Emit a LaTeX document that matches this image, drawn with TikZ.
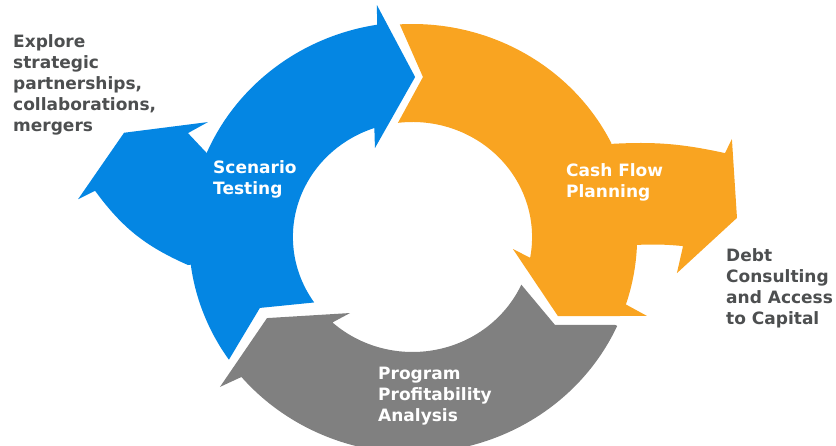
\documentclass[tikz,border=0pt]{standalone}
\usepackage{fontspec}
\setmainfont{DejaVu Sans}
\definecolor{cycleblue}{RGB}{4,134,227}
\definecolor{cycleorange}{RGB}{249,164,33}
\definecolor{cyclegray}{RGB}{128,128,128}
\definecolor{notegray}{RGB}{77,79,80}

\begin{document}
\begin{tikzpicture}[x=1pt,y=1pt,
  cycletext/.style={anchor=base west,align=left,inner sep=0pt,
    font=\fontsize{17}{21}\selectfont\bfseries},
  intext/.style={cycletext,text=white},
  outtext/.style={cycletext,text=notegray}]
\clip (0,0) rectangle (836,446);
\begin{scope}[shift={(412.5,209)},xscale=1.04]
% scenario testing, with the branch to the upper left
\fill[cycleblue] (214.8:215) -- (205.8:163) -- (214.7:115)
  arc[start angle=214.7,end angle=108.6,radius=115]
  -- (112.1:96) -- (89.1:160) -- (98.4:234.5) -- (99.1:215)
  arc[start angle=99.1,end angle=157,radius=215]
  -- (154.3:239.6) -- (149.7:227.8) -- (159.4:296.3) -- (173.3:323.8)
  -- (171.4:308.7) to[bend right=15] (187.4:217.7)
  -- (187.4:215) arc[start angle=187.4,end angle=214.8,radius=215] -- cycle;
% cash flow planning, with the branch to the right
\fill[cycleorange] (93.3:213) -- (86.4:160.3) -- (97:115)
  arc[start angle=97,end angle=-10.4,radius=115]
  -- (-7.1:97.3) -- (-29.5:160.7) -- (-19.3:238.9) -- (-18.2:216)
  arc[start angle=-18.2,end angle=-2.1,radius=216]
  to[bend left=4] (-2:260.3) -- (-8.1:256.8) -- (3.5:312.6) -- (17.7:322.4)
  -- (15.6:312) to[bend right=8] (26.1:211.5)
  -- (26.1:213) arc[start angle=26.1,end angle=93.3,radius=213] -- cycle;
% program profitability
\fill[cyclegray] (-24.5:115) -- (-32.7:162.8) -- (-24.3:213.7) -- (-24.3:216)
  arc[start angle=-24.3,end angle=-139.6,radius=216]
  -- (-141:238.2) -- (-149.9:161.7) -- (-128.3:96.9) -- (-132:115)
  arc[start angle=-132,end angle=-24.5,radius=115] -- cycle;
\end{scope}
\node[intext] (scenario) at (213,251) {Scenario\\Testing};
\node[intext] (cashflow) at (566,248) {Cash Flow\\Planning};
\node[intext] (program) at (378,24) {Program\\Profitability\\Analysis};
\node[outtext] (explore) at (13,314) {Explore\\strategic\\partnerships,\\collaborations,\\mergers};
\node[outtext] (debt) at (726,121) {Debt\\Consulting\\and Access\\to Capital};
\end{tikzpicture}
\end{document}
